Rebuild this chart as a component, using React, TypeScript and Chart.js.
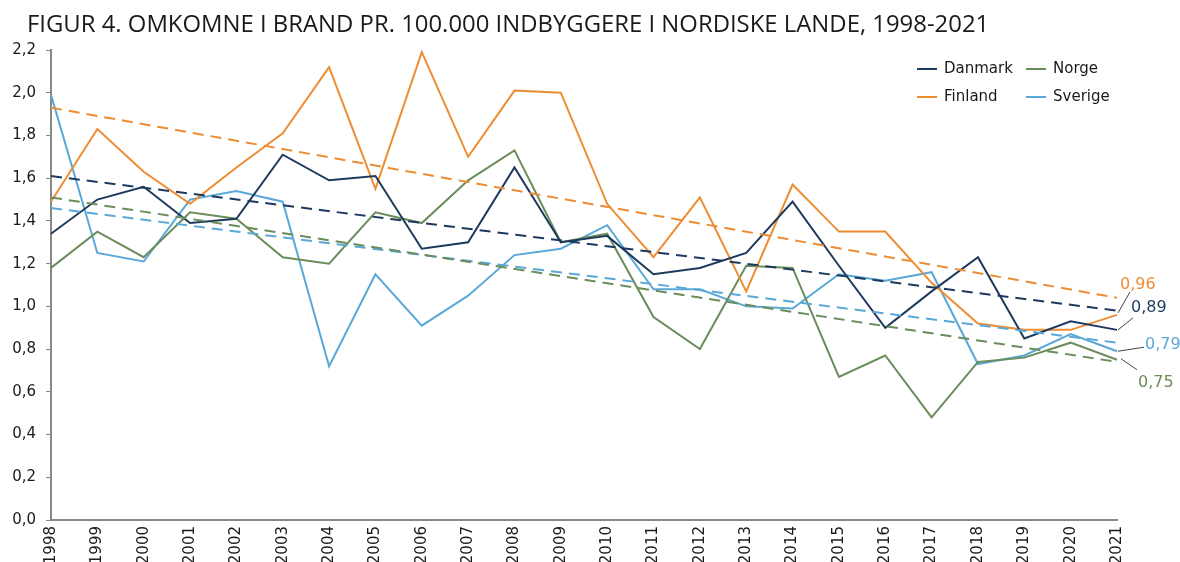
import React, { useEffect, useRef } from "react";
import { Chart, registerables } from "chart.js";

Chart.register(...registerables);

const TITLE = "FIGUR 4. OMKOMNE I BRAND PR. 100.000 INDBYGGERE I NORDISKE LANDE, 1998-2021";

const years = [
  "1998", "1999", "2000", "2001", "2002", "2003", "2004", "2005", "2006", "2007", "2008", "2009",
  "2010", "2011", "2012", "2013", "2014", "2015", "2016", "2017", "2018", "2019", "2020", "2021",
];

const danmark = [1.34, 1.50, 1.56, 1.39, 1.41, 1.71, 1.59, 1.61, 1.27, 1.30, 1.65, 1.30, 1.33, 1.15, 1.18, 1.25, 1.49, 1.19, 0.90, 1.07, 1.23, 0.85, 0.93, 0.89];
const finland = [1.49, 1.83, 1.63, 1.48, 1.65, 1.81, 2.12, 1.55, 2.19, 1.70, 2.01, 2.00, 1.48, 1.23, 1.51, 1.07, 1.57, 1.35, 1.35, 1.11, 0.92, 0.89, 0.89, 0.96];
const norge = [1.18, 1.35, 1.23, 1.44, 1.41, 1.23, 1.20, 1.44, 1.39, 1.59, 1.73, 1.30, 1.34, 0.95, 0.80, 1.19, 1.18, 0.67, 0.77, 0.48, 0.74, 0.76, 0.83, 0.75];
const sverige = [1.99, 1.25, 1.21, 1.50, 1.54, 1.49, 0.72, 1.15, 0.91, 1.05, 1.24, 1.27, 1.38, 1.08, 1.08, 1.00, 0.99, 1.15, 1.12, 1.16, 0.73, 0.77, 0.87, 0.79];

// trend line endpoints (1998, 2021)
const danmarkTrend = [1.61, 0.98];
const finlandTrend = [1.93, 1.04];
const norgeTrend = [1.51, 0.74];
const sverigeTrend = [1.46, 0.83];

const yTicks = [0, 0.2, 0.4, 0.6, 0.8, 1.0, 1.2, 1.4, 1.6, 1.8, 2.0, 2.2];

const COLORS = {
  Danmark: "#1d3a5e",
  Finland: "#ee8c33",
  Norge: "#6b8c5b",
  Sverige: "#5aa8d8",
};

const FONT = "'DejaVu Sans', Verdana, sans-serif";

function trendData(ends: number[]) {
  const arr: (number | null)[] = years.map(() => null);
  arr[0] = ends[0];
  arr[years.length - 1] = ends[1];
  return arr;
}

const fmt = (v: number, d: number) => v.toFixed(d).replace(".", ",");

export default function App() {
  const ref = useRef<HTMLCanvasElement>(null);

  useEffect(() => {
    if (!ref.current) return;
    const series = [
      { label: "Danmark", data: danmark, trend: danmarkTrend },
      { label: "Finland", data: finland, trend: finlandTrend },
      { label: "Norge", data: norge, trend: norgeTrend },
      { label: "Sverige", data: sverige, trend: sverigeTrend },
    ];

    const datasets: any[] = [];
    series.forEach((s) => {
      datasets.push({
        label: s.label + " trend",
        data: trendData(s.trend),
        borderColor: (COLORS as any)[s.label],
        borderWidth: 2,
        borderDash: [11, 7],
        pointRadius: 0,
        spanGaps: true,
        tension: 0,
      });
    });
    series.forEach((s) => {
      datasets.push({
        label: s.label,
        data: s.data,
        borderColor: (COLORS as any)[s.label],
        borderWidth: 2,
        pointRadius: 0,
        tension: 0,
      });
    });

    const endLabelLayout: Record<string, { lx0: number; ly0: number; lx: number; ly: number; tx: number; ty: number }> = {
      Finland: { lx0: 1, ly0: -2, lx: 13, ly: -23, tx: 3, ty: -30 },
      Danmark: { lx0: 1, ly0: 0, lx: 16, ly: -12, tx: 14, ty: -22 },
      Sverige: { lx0: 1, ly0: 0, lx: 27, ly: -4, tx: 28, ty: -6 },
      Norge: { lx0: 4, ly0: -1, lx: 20, ly: 10, tx: 21, ty: 23 },
    };

    const overlay = {
      id: "overlay",
      afterDraw(chart: any) {
        const ctx = chart.ctx;
        ctx.save();
        ctx.fillStyle = "#1a1a1a";
        ctx.textBaseline = "alphabetic";
        ctx.textAlign = "left";
        let size = 20;
        ctx.font = `${size}px 'Open Sans', sans-serif`;
        const w = ctx.measureText(TITLE).width;
        size = (size * 963) / w;
        ctx.font = `${size}px 'Open Sans', sans-serif`;
        ctx.fillText(TITLE, 27, 32);

        const legend = [
          { name: "Danmark", x: 917, y: 69 },
          { name: "Norge", x: 1026, y: 69 },
          { name: "Finland", x: 917, y: 97 },
          { name: "Sverige", x: 1026, y: 97 },
        ];
        ctx.font = `15px ${FONT}`;
        ctx.textBaseline = "middle";
        legend.forEach((l) => {
          ctx.strokeStyle = (COLORS as any)[l.name];
          ctx.lineWidth = 2;
          ctx.beginPath();
          ctx.moveTo(l.x, l.y);
          ctx.lineTo(l.x + 20, l.y);
          ctx.stroke();
          ctx.fillStyle = "#1a1a1a";
          ctx.fillText(l.name, l.x + 27, l.y);
        });

        ctx.font = `16px ${FONT}`;
        chart.data.datasets.forEach((ds: any, i: number) => {
          const lay = endLabelLayout[ds.label];
          if (!lay) return;
          const meta = chart.getDatasetMeta(i);
          const pt = meta.data[meta.data.length - 1];
          const v = ds.data[ds.data.length - 1];
          ctx.strokeStyle = "#444";
          ctx.lineWidth = 1;
          ctx.beginPath();
          ctx.moveTo(pt.x + lay.lx0, pt.y + lay.ly0);
          ctx.lineTo(pt.x + lay.lx, pt.y + lay.ly);
          ctx.stroke();
          ctx.fillStyle = (COLORS as any)[ds.label];
          ctx.textAlign = "left";
          ctx.fillText(fmt(v, 2), pt.x + lay.tx, pt.y + lay.ty);
        });
        ctx.restore();
      },
    };

    const chart = new Chart(ref.current, {
      type: "line",
      data: { labels: years, datasets },
      options: {
        animation: false,
        responsive: false,
        maintainAspectRatio: false,
        layout: { padding: { left: 0, right: 63, top: 50, bottom: 0 } },
        plugins: {
          legend: { display: false },
          tooltip: { enabled: false },
          title: { display: false },
        },
        scales: {
          x: {
            type: "category",
            offset: false,
            grid: { display: false, drawTicks: false },
            border: { display: true, color: "#888888", width: 2 },
            ticks: {
              autoSkip: false,
              minRotation: 90,
              maxRotation: 90,
              padding: 6,
              color: "#1a1a1a",
              font: { family: FONT, size: 15 },
            },
            afterFit(scale: any) {
              scale.height = 42;
            },
          },
          y: {
            min: 0,
            max: 2.2,
            afterBuildTicks(scale: any) {
              scale.ticks = yTicks.map((v) => ({ value: v }));
            },
            grid: {
              display: true,
              drawOnChartArea: false,
              drawTicks: true,
              tickLength: 5,
              color: "#888888",
            },
            border: { display: true, color: "#888888", width: 2 },
            ticks: {
              padding: 10,
              color: "#1a1a1a",
              font: { family: FONT, size: 15 },
              callback: (v: any) => fmt(Number(v), 1),
            },
            afterFit(scale: any) {
              scale.width = 51;
            },
          },
        },
      },
      plugins: [overlay],
    });
    return () => chart.destroy();
  }, []);

  return (
    <div style={{ position: "absolute", left: 0, top: 0, width: 1180, height: 562, background: "#fff" }}>
      <canvas ref={ref} width={1180} height={562} style={{ width: 1180, height: 562, display: "block" }} />
    </div>
  );
}
